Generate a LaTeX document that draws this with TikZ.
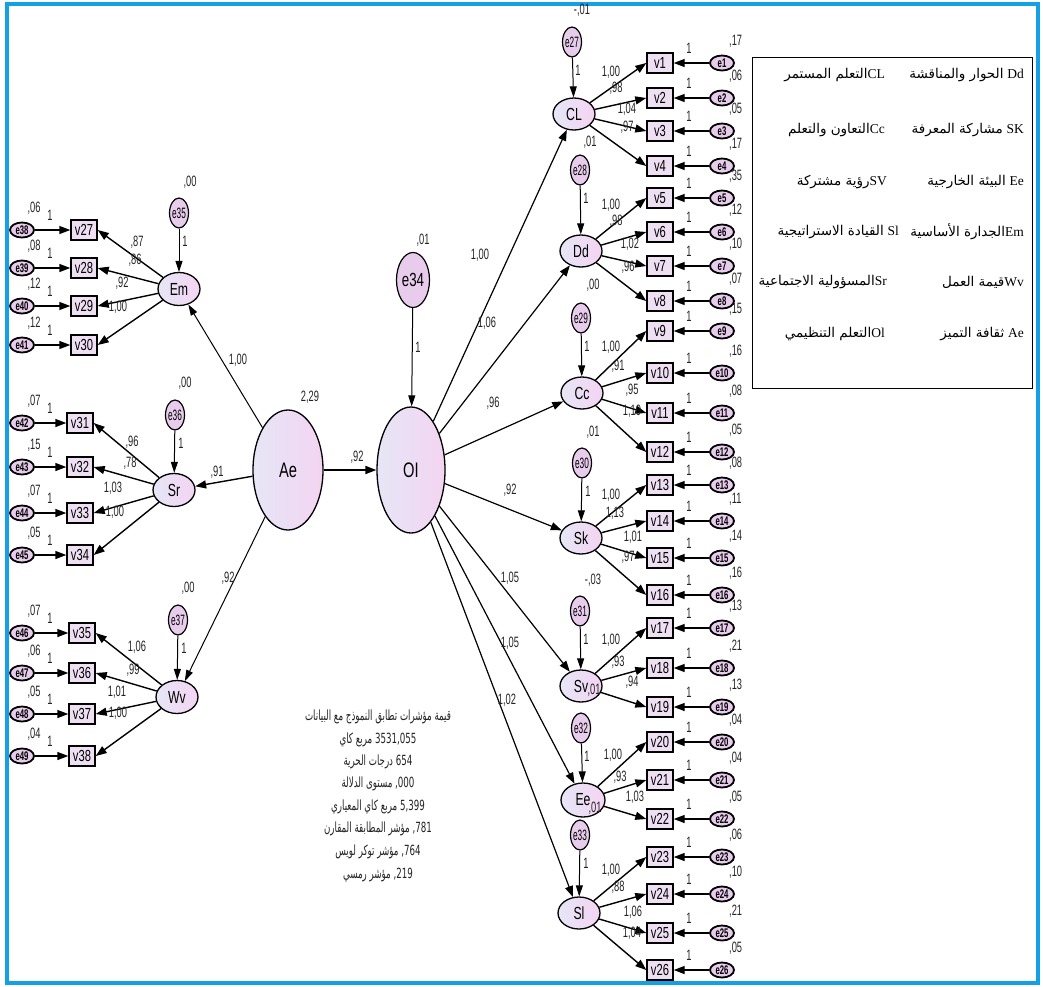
\documentclass[tikz,border=0pt]{standalone}
\usepackage{fontspec}
\usetikzlibrary{arrows.meta,shapes.geometric}
\setmainfont{Liberation Sans}
\newfontfamily\nar[FakeStretch=0.7]{Liberation Sans}
\newfontfamily\narn[FakeStretch=0.62]{Liberation Sans}
\newfontfamily\narr[FakeStretch=0.55]{Liberation Sans}
\newfontfamily\arab[Script=Arabic]{DejaVu Sans}
\newfontfamily\arabn[Script=Arabic,FakeStretch=0.62]{DejaVu Sans}
\newfontfamily\lserif{Liberation Serif}
\TeXXeTstate=1
\definecolor{frameblue}{RGB}{20,160,228}
\definecolor{latA}{RGB}{230,230,246}
\definecolor{latB}{RGB}{244,212,242}
\definecolor{boxpink}{RGB}{238,224,242}
\definecolor{epink}{RGB}{232,204,236}
\definecolor{txt}{RGB}{35,35,35}
\tikzset{
  lat/.style={ellipse, draw, line width=1.3pt, left color=latA, right color=latB, inner sep=0pt,
    font=\nar\fontsize{17.5}{17.5}\selectfont},
  obs/.style={rectangle, draw, line width=1.4pt, fill=boxpink, minimum width=26pt, minimum height=20pt,
    inner sep=0pt, font=\nar\fontsize{16}{16}\selectfont},
  err/.style={ellipse, draw, line width=1.8pt, fill=epink, minimum width=24pt, minimum height=15pt,
    inner sep=0pt, font=\narn\bfseries\fontsize{12.5}{12.5}\selectfont},
  evert/.style={ellipse, draw, line width=1.2pt, fill=epink, minimum width=19pt, minimum height=30pt,
    inner sep=0pt, font=\narr\fontsize{15}{15}\selectfont},
  num/.style={font=\narn\fontsize{15}{15}\selectfont, inner sep=0pt, text=txt},
  arr/.style={-{Triangle[length=11pt,width=8pt]}, line width=1.4pt},
  tarr/.style={-{Triangle[length=11pt,width=7pt]}, line width=1pt},
  lg/.style={anchor=east, inner sep=0pt, font=\fontsize{13.5}{13.5}\selectfont},
  fit/.style={inner sep=0pt, text=txt, font=\arabn\fontsize{14}{14}\selectfont}
}
\begin{document}
\begin{tikzpicture}[x=1pt,y=-1pt]
\useasboundingbox (0,0) rectangle (1043,986);
% frame
\draw[frameblue, line width=3.5pt] (7,4) -- (1038,4) -- (1038,983) -- (7,983) -- cycle;

% right latent factors
\node[lat, minimum width=42pt, minimum height=32pt] (CL) at (574,114) {CL};
\node[lat, minimum width=42pt, minimum height=32pt] (Dd) at (581,251) {Dd};
\node[lat, minimum width=42pt, minimum height=32pt] (Cc) at (582,393) {Cc};
\node[lat, minimum width=42pt, minimum height=32pt] (Sk) at (581,538) {Sk};
\node[lat, minimum width=42pt, minimum height=32pt] (Sv) at (581,686) {Sv};
\node[lat, minimum width=44pt, minimum height=34pt] (Ee) at (583,800) {Ee};
\node[lat, minimum width=42pt, minimum height=32pt] (Sl) at (579,913) {Sl};
% left latent factors
\node[lat, minimum width=42pt, minimum height=33pt] (Em) at (179,289) {Em};
\node[lat, minimum width=42pt, minimum height=33pt] (Sr) at (174,490) {Sr};
\node[lat, minimum width=42pt, minimum height=33pt] (Wv) at (177,697) {Wv};
% central
\node[lat, minimum width=70pt, minimum height=120pt, font=\nar\fontsize{21}{21}\selectfont] (Ae) at (288,470) {Ae};
\node[lat, minimum width=68pt, minimum height=126pt, font=\nar\fontsize{21}{21}\selectfont] (OI) at (411,470) {OI};
\node[evert, minimum width=33pt, minimum height=55pt, font=\nar\fontsize{19}{19}\selectfont] (e34) at (413,280) {\makebox[0pt]{e34}};

% factor disturbances
\foreach \n/\f/\x/\y/\va/\vx/\vy in {27/CL/572/42/{-,01}/582/10, 28/Dd/580/170/{,01}/590/142, 29/Cc/581/318/{,00}/593/285,
  30/Sk/582/463/{,01}/593/432, 31/Sv/580/611/{-,03}/593/580, 32/Ee/581/728/{,01}/594/690, 33/Sl/580/835/{,01}/595/808,
  35/Em/179/213/{,00}/190/182, 36/Sr/175/415/{,00}/185/383, 37/Wv/178/620/{,00}/188/588} {
  \node[evert] (e\n) at (\x,\y) {\makebox[0pt]{e\n}};
  \draw[tarr] (e\n) -- (\f);
  \node[num] (ve\n) at (\vx,\vy) {\va};
  \node[num] (one\n) at (\x+6,\y+28) {1};
}

% right indicators
\foreach \i/\y/\va in {1/63/{,17},2/98/{,06},3/131/{,05},4/166/{,17},5/198/{,35},6/232/{,12},7/266/{,10},8/301/{,07},
  9/331/{,15},10/373/{,16},11/413/{,08},12/452/{,05},13/485/{,08},14/521/{,11},15/558/{,14},16/595/{,16},
  17/628/{,13},18/668/{,21},19/707/{,13},20/742/{,04},21/780/{,04},22/819/{,05},23/857/{,06},24/894/{,10},
  25/933/{,21},26/970/{,05}} {
  \node[obs] (v\i) at (660,\y) {\makebox[0pt]{v\i}};
  \node[err] (e\i) at (722,\y) {\makebox[0pt]{e\i}};
  \draw[arr] (e\i) -- (v\i);
  \node[num, anchor=west] (vr\i) at (729,\y-22) {\va};
  \node[num] (o\i) at (689,\y-15) {1};
}
% left indicators
\foreach \i/\x/\y/\va in {27/84/230/{,06},28/84/268/{,08},29/84/306/{,12},30/84/345/{,12},
  31/80/423/{,07},32/80/467/{,15},33/80/513/{,07},34/80/555/{,05},
  35/82/633/{,07},36/82/673/{,06},37/82/714/{,05},38/82/756/{,04}} {
  \pgfmathtruncatemacro\ei{\i+11}
  \node[obs] (v\i) at (\x,\y) {\makebox[0pt]{v\i}};
  \node[err] (e\ei) at (22,\y) {\makebox[0pt]{e\ei}};
  \draw[arr] (e\ei) -- (v\i);
  \node[num] (vl\i) at (34,\y-22) {\va};
  \node[num] (ol\i) at (50,\y-15) {1};
}

% loadings arrows
\foreach \f/\lst in {CL/{1,2,3,4},Dd/{5,6,7,8},Cc/{9,10,11,12},Sk/{13,14,15,16},Sv/{17,18,19},Ee/{20,21,22},Sl/{23,24,25,26}} {
  \foreach \j in \lst { \draw[arr] (\f) -- (v\j.west); }
}
\foreach \f/\lst in {Em/{27,28,29,30},Sr/{31,32,33,34},Wv/{35,36,37,38}} {
  \foreach \j in \lst { \draw[arr] (\f) -- (v\j.east); }
}

% structural paths
\draw[arr, line width=1.8pt] (Ae) -- (OI);
\draw[tarr] (Ae) -- (Em);
\draw[arr] (Ae) -- (Sr);
\draw[tarr] (Ae) -- (Wv);
\draw[tarr] (e34) -- (OI);
\foreach \f in {CL,Dd,Cc,Sk,Sv,Ee,Sl} { \draw[arr, line width=1.2pt] (OI) -- (\f); }

% structural labels
\node[num] (pAeOI) at (357,457) {,92};
\node[num] (pAeEm) at (238,360) {1,00};
\node[num] (pAeSr) at (217,472) {,91};
\node[num] (pAeWv) at (228,578) {,92};
\node[num] (vAe) at (310,397) {2,29};
\node[num] (ve34) at (423,240) {,01};
\node[num] (one34) at (418,347) {1};
\node[num] (pCL) at (480,255) {1,00};
\node[num] (pDd) at (487,323) {1,06};
\node[num] (pCc) at (493,403) {,96};
\node[num] (pSk) at (510,490) {,92};
\node[num] (pSv) at (510,578) {1,05};
\node[num] (pEe) at (510,643) {1,05};
\node[num] (pSl) at (507,700) {1,02};

% loading labels (right)
\foreach \t/\x/\y [count=\k] in {{1,00}/611/72,{,98}/616/88,{1,04}/627/109,{,97}/627/127,
  {1,00}/611/205,{,98}/616/221,{1,02}/630/244,{,96}/628/267,
  {1,00}/611/347,{,91}/618/366,{,95}/632/390,{1,10}/632/411,
  {1,00}/611/495,{1,13}/615/513,{1,01}/633/537,{,97}/628/557,
  {1,00}/611/640,{,93}/618/662,{,94}/632/682,
  {1,00}/613/755,{,93}/620/777,{1,03}/635/797,
  {1,00}/611/870,{,88}/618/887,{1,06}/633/912,{1,04}/632/933} {
  \node[num] (lr\k) at (\x,\y) {\t};
}
% loading labels (left)
\foreach \t/\x/\y [count=\k] in {{,87}/137/242,{,86}/135/260,{,92}/122/283,{1,00}/118/307,
  {,96}/132/442,{,78}/130/463,{1,03}/113/488,{1,00}/115/512,
  {1,06}/137/647,{,99}/133/670,{1,01}/117/692,{1,00}/118/713} {
  \node[num] (ll\k) at (\x,\y) {\t};
}

% legend
\draw[line width=0.8pt] (752,57) rectangle (1032,388);
\node[lg] (g1r) at (1024,75) {\beginR{\lserif Dd} {\arab الحوار والمناقشة}\endR};
\node[lg] (g1l) at (885,75) {\beginR{\lserif CL}{\arab التعلم المستمر}\endR};
\node[lg] (g2r) at (1024,130) {\beginR{\lserif SK} {\arab مشاركة المعرفة}\endR};
\node[lg] (g2l) at (885,130) {\beginR{\lserif Cc}{\arab التعاون والتعلم}\endR};
\node[lg] (g3r) at (1024,182) {\beginR{\lserif Ee} {\arab البيئة الخارجية}\endR};
\node[lg] (g3l) at (887,182) {\beginR{\lserif SV}{\arab رؤية مشتركة}\endR};
\node[lg] (g4r) at (1024,232) {\beginR{\lserif Em}{\arab الجدارة الأساسية}\endR};
\node[lg] (g4l) at (899,232) {\beginR{\lserif Sl} {\arab القيادة الاستراتيجية}\endR};
\node[lg] (g5r) at (1024,282) {\beginR{\lserif Wv}{\arab قيمة العمل}\endR};
\node[lg] (g5l) at (887,282) {\beginR{\lserif Sr}{\arab المسؤولية الاجتماعية}\endR};
\node[lg] (g6r) at (1024,334) {\beginR{\lserif Ae} {\arab ثقافة التميز}\endR};
\node[lg] (g6l) at (885,334) {\beginR{\lserif Ol}{\arab التعلم التنظيمي}\endR};

% fit statistics
\node[fit] (f1) at (378,717) {\beginR قيمة مؤشرات تطابق النموذج مع البيانات\endR};
\node[fit] (f2) at (378,740) {\beginR\beginL 3531,055\endL{} مربع كاي\endR};
\node[fit] (f3) at (378,762) {\beginR\beginL 654\endL{} درجات الحرية\endR};
\node[fit] (f4) at (378,784) {\beginR\beginL 000,\endL{} مستوى الدلالة\endR};
\node[fit] (f5) at (378,807) {\beginR\beginL 5,399\endL{}  مربع كاي المعياري\endR};
\node[fit] (f6) at (378,829) {\beginR\beginL 781,\endL{} مؤشر المطابقة المقارن\endR};
\node[fit] (f7) at (378,852) {\beginR\beginL 764,\endL{} مؤشر توكر لويس\endR};
\node[fit] (f8) at (378,875) {\beginR\beginL 219,\endL{} مؤشر رمسي\endR};
\end{tikzpicture}
\end{document}
